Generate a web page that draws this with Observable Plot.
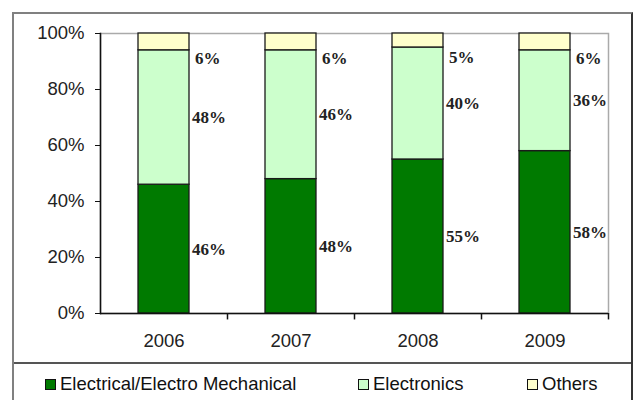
<!DOCTYPE html>
<html>
<head>
<meta charset="utf-8">
<script src="https://cdn.jsdelivr.net/npm/d3@7"></script>
<script src="https://cdn.jsdelivr.net/npm/@observablehq/plot@0.6"></script>
<style>
  body { margin: 0; background: #fff; }
  #wrap { position: absolute; left: 12px; top: 12px; width: 617px; height: 400px;
          border-left: 2px solid #808080; border-top: 2px solid #808080; border-right: 2px solid #333; }
  #chart svg { display: block; }
  #legend { position: relative; height: 40px; border-top: 2px solid #555;
            font-family: "Liberation Sans", Arial, sans-serif; font-size: 18.5px; color: #111; }
  .item { position: absolute; top: 9px; display: flex; align-items: center; white-space: nowrap; }
  .sw { width: 9px; height: 9px; border: 1.5px solid #111; margin-right: 4px; }
</style>
</head>
<body>
<div id="wrap">
  <div id="chart"></div>
  <div id="legend"></div>
</div>
<script>
const years = ["2006", "2007", "2008", "2009"];
const categories = ["Electrical/Electro Mechanical", "Electronics", "Others"];
const electrical = [46, 48, 55, 58];
const electronics = [48, 46, 40, 36];
const others = [6, 6, 5, 6];
const colors = ["#007a00", "#ccffcc", "#ffffcc"];
const yTicks = [0, 20, 40, 60, 80, 100];

const series = [electrical, electronics, others];
const data = [];
years.forEach((yr, i) => {
  categories.forEach((c, j) => data.push({year: yr, cat: c, value: series[j][i]}));
});

const font = "'Liberation Sans', Arial, sans-serif";
const labelFont = "'Liberation Serif', 'Times New Roman', serif";

const plot = Plot.plot({
  width: 617,
  height: 348,
  marginLeft: 86,
  marginRight: 23,
  marginTop: 19,
  marginBottom: 49,
  style: {fontFamily: font, color: "#222", background: "#fff"},
  x: {domain: years, paddingInner: 0.6, paddingOuter: 0.3, label: null},
  y: {domain: [0, 100], label: null},
  color: {domain: categories, range: colors},
  marks: [
    Plot.frame({stroke: "#aaa", strokeWidth: 1.5}),
    Plot.barY(data, {x: "year", y: "value", fill: "cat", stroke: "#1a1a1a", strokeWidth: 1.3}),
    Plot.ruleY([0], {stroke: "#111", strokeWidth: 1.5}),
    Plot.frame({anchor: "left", stroke: "#111", strokeWidth: 1.5}),
    Plot.ruleX(years, {x: d => d, y1: 0, y2: -2.3, dx: 63.5, stroke: "#111", strokeWidth: 1.5}),
    Plot.axisY({ticks: yTicks, tickSize: 5, tickPadding: 11, fontSize: 18.5, tickFormat: d => d + "%", stroke: "#111"}),
    Plot.axisX({tickSize: 0, tickPadding: 20, fontSize: 18.5}),
    Plot.text(data, Plot.stackY({
      x: "year", y: "value",
      text: d => d.cat === "Others" ? null : d.value + "%",
      textAnchor: "start", dx: 28, fontSize: 17, fontWeight: "bold",
      fontFamily: labelFont, fill: "#222"
    })),
    Plot.text(data, Plot.stackY({
      x: "year", y: "value",
      text: d => d.cat === "Others" ? d.value + "%" : null,
      textAnchor: "start", dx: 31, dy: 17, fontSize: 17, fontWeight: "bold",
      fontFamily: labelFont, fill: "#222"
    }))
  ]
});
document.getElementById("chart").appendChild(plot);

const legendLeft = [31, 344, 513];
const legend = document.getElementById("legend");
categories.forEach((c, i) => {
  const it = document.createElement("div");
  it.className = "item";
  it.style.left = legendLeft[i] + "px";
  const sw = document.createElement("div");
  sw.className = "sw";
  sw.style.background = colors[i];
  const t = document.createElement("span");
  t.textContent = c;
  it.appendChild(sw);
  it.appendChild(t);
  legend.appendChild(it);
});
</script>
</body>
</html>
